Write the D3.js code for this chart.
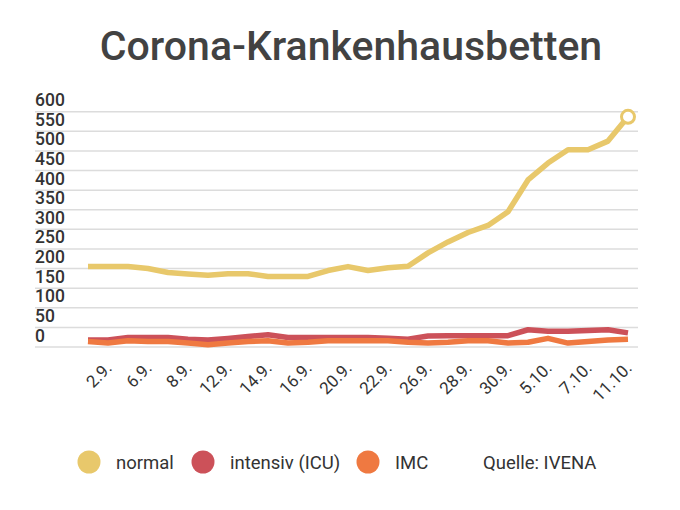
<!DOCTYPE html>
<html>
<head>
<meta charset="utf-8">
<script src="https://cdn.jsdelivr.net/npm/d3@7"></script>
<style>
  body { margin: 0; background: #fff; }
  svg { display: block; font-family: Roboto, "Noto Sans", sans-serif; }
</style>
</head>
<body>
<svg width="680" height="510"></svg>
<script>
// dates of the data points (only every second one gets a label)
let dates = ["1.9.", "2.9.", "4.9.", "6.9.", "7.9.", "8.9.", "10.9.", "12.9.", "13.9.", "14.9.",
             "15.9.", "16.9.", "18.9.", "20.9.", "21.9.", "22.9.", "24.9.", "26.9.", "27.9.", "28.9.",
             "29.9.", "30.9.", "2.10.", "5.10.", "6.10.", "7.10.", "9.10.", "11.10."];
let tickDates = ["2.9.", "6.9.", "8.9.", "12.9.", "14.9.", "16.9.", "20.9.", "22.9.", "26.9.", "28.9.",
                 "30.9.", "5.10.", "7.10.", "11.10."];

let normal   = [205, 205, 205, 200, 190, 186, 183, 187, 187, 180, 180, 180, 195, 205,
                195, 202, 206, 240, 268, 292, 310, 345, 426, 469, 503, 503, 525, 587];
let intensiv = [18, 18, 24, 24, 24, 20, 18, 22, 27, 31, 24, 24, 24, 24,
                24, 22, 20, 28, 29, 29, 29, 29, 44, 40, 40, 42, 44, 36];
let imc      = [14, 10, 16, 14, 14, 10, 6, 10, 14, 16, 10, 12, 16, 16,
                16, 16, 12, 10, 12, 16, 16, 10, 12, 22, 10, 14, 18, 20];

let yTicks = d3.range(0, 601, 50);

let series = [
  {name: "normal", values: normal, color: "#e8c86b"},
  {name: "intensiv (ICU)", values: intensiv, color: "#cc5159"},
  {name: "IMC", values: imc, color: "#ef7941"}
];

let svg = d3.select("svg");

let x = d3.scalePoint()
          .domain(dates)
          .range([88, 628]);

let y = d3.scaleLinear()
          .domain([0, 600])
          .range([347, 111.7]);

svg.append("text")
    .attr("x", 351)
    .attr("y", 60)
    .attr("text-anchor", "middle")
    .attr("fill", "#424242")
    .style("font-size", "41px")
    .style("font-weight", 500)
    .text("Corona-Krankenhausbetten");

// grid lines + y labels sitting above them
let grid = svg.append("g").attr("class", "grid");
grid.selectAll("line")
    .data(yTicks)
    .enter()
    .append("line")
    .attr("x1", 35)
    .attr("x2", 638)
    .attr("y1", d => y(d))
    .attr("y2", d => y(d))
    .attr("stroke", "#dcdcdc")
    .attr("stroke-width", 1.5);

grid.selectAll("text")
    .data(yTicks)
    .enter()
    .append("text")
    .attr("x", 35)
    .attr("y", d => y(d) - 5.5)
    .attr("fill", "#333")
    .style("font-size", "17.5px")
    .style("font-weight", 500)
    .text(d => d);

// x labels, rotated
svg.append("g")
    .selectAll("text")
    .data(tickDates)
    .enter()
    .append("text")
    .attr("text-anchor", "end")
    .attr("fill", "#333")
    .style("font-size", "17px")
    .attr("transform", d => `translate(${x(d) + 5}, 369) rotate(-45)`)
    .text(d => d);

let line = d3.line()
             .x((d, i) => x(dates[i]))
             .y(d => y(d));

// draw from back to front: normal, ICU, IMC
svg.append("g")
    .selectAll("path")
    .data(series)
    .enter()
    .append("path")
    .attr("d", d => line(d.values))
    .attr("fill", "none")
    .attr("stroke", d => d.color)
    .attr("stroke-width", 5.5)
    .attr("stroke-linejoin", "round")
    .attr("stroke-linecap", "butt");

let last = dates.length - 1;
svg.append("circle")
    .attr("cx", x(dates[last]))
    .attr("cy", y(normal[last]))
    .attr("r", 6.5)
    .attr("fill", "#fff")
    .attr("stroke", series[0].color)
    .attr("stroke-width", 3);

// legend
let legendX = [89, 203, 368];
let legend = svg.append("g")
    .selectAll("g")
    .data(series)
    .enter()
    .append("g")
    .attr("transform", (d, i) => `translate(${legendX[i]}, 462)`);

legend.append("circle")
    .attr("r", 11.5)
    .attr("fill", d => d.color);

legend.append("text")
    .attr("x", 27)
    .attr("y", 6.5)
    .attr("fill", "#333")
    .style("font-size", "18.5px")
    .text(d => d.name);

svg.append("text")
    .attr("x", 483)
    .attr("y", 468.5)
    .attr("fill", "#333")
    .style("font-size", "18.5px")
    .text("Quelle: IVENA");
</script>
</body>
</html>
